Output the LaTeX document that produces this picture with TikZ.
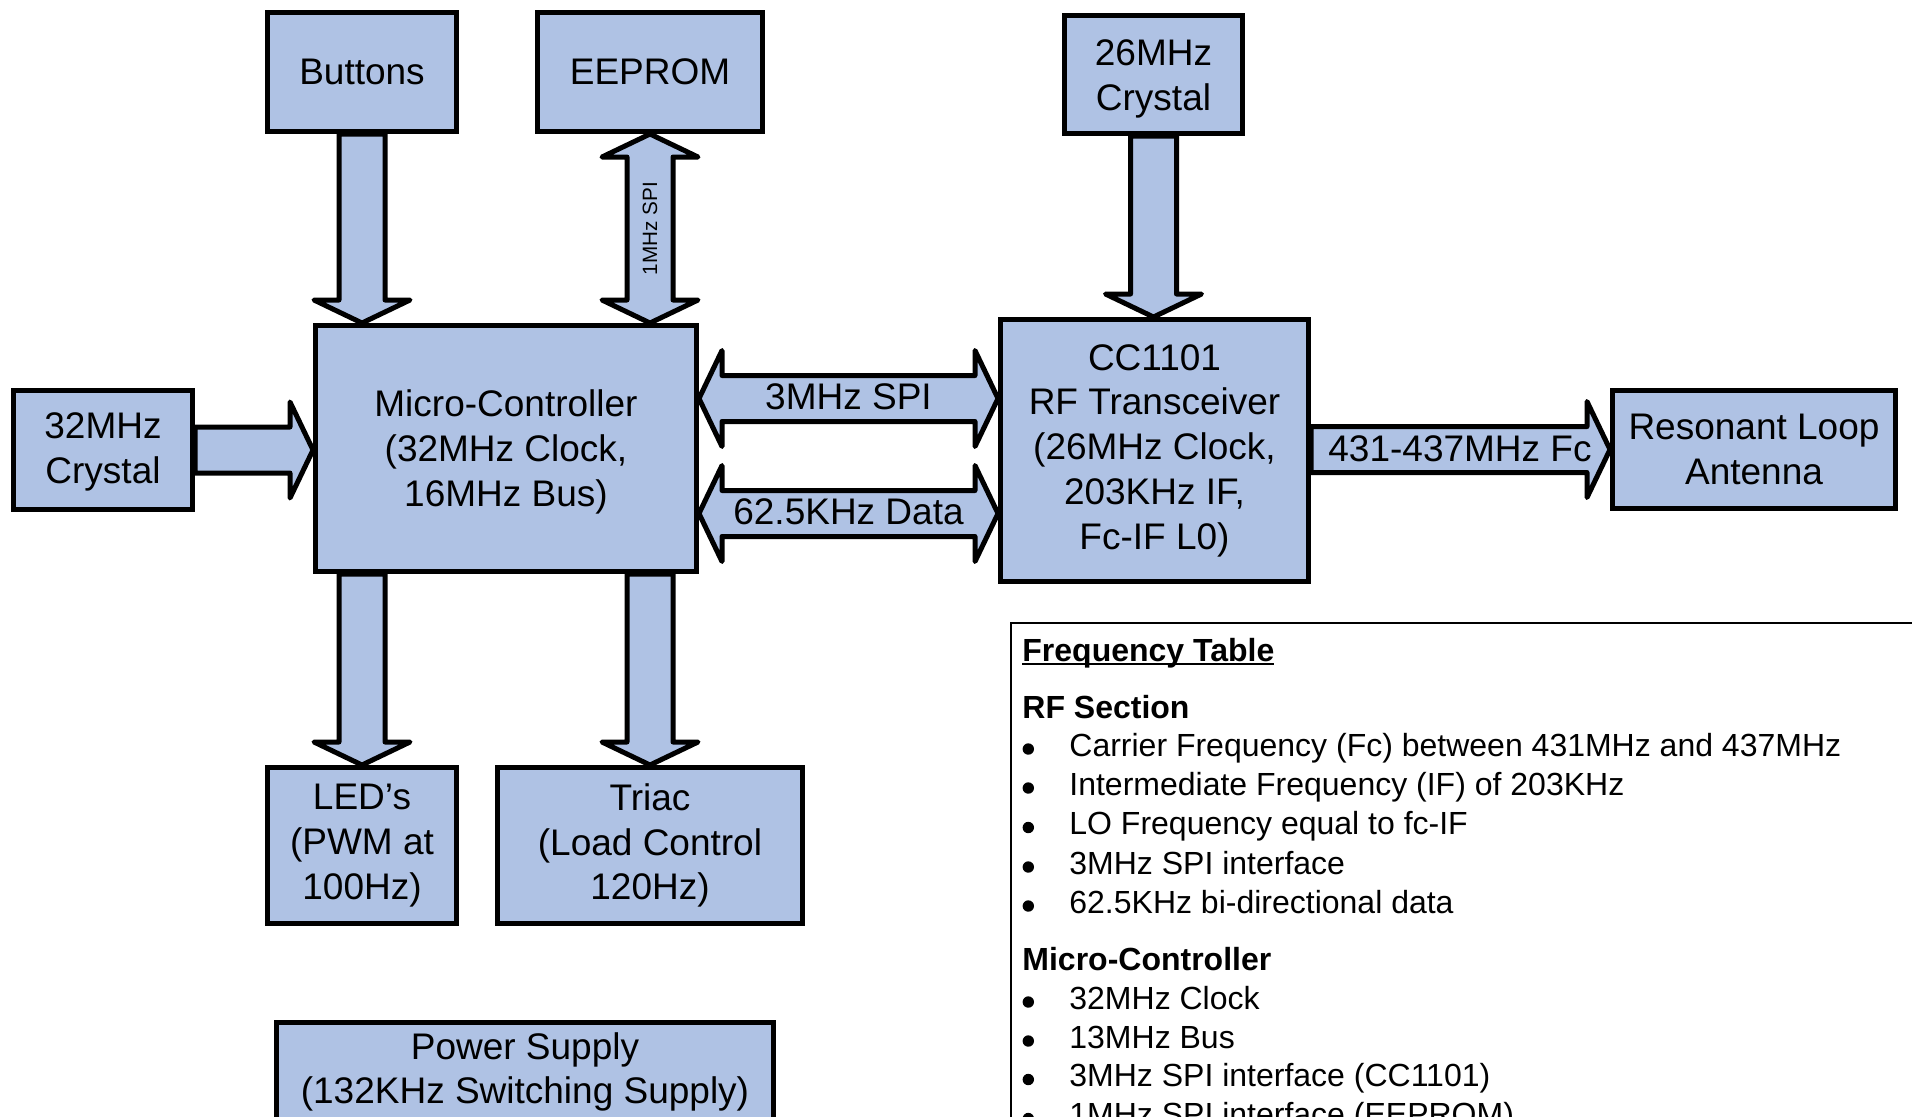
\documentclass[tikz,border=0pt]{standalone}
\usepackage{fontspec}
\setmainfont{Liberation Sans}
\usetikzlibrary{calc}
\definecolor{blkfill}{RGB}{175,194,228}
\pgfdeclarelayer{bg}
\pgfsetlayers{bg,main}
\newcommand{\myul}[1]{\setbox0=\hbox{#1}\rlap{\raisebox{-2pt}{\rule{\wd0}{1pt}}}\box0}
\newcommand{\blkarrv}[2]{\draw[barrow] let \p1=(#1), \p2=(#2) in
  (\x1-11.5pt,\y1) -- (\x1-11.5pt,\y2+11.5pt) -- (\x1-24pt,\y2+11.5pt) -- (\x1,\y2)
  -- (\x1+24pt,\y2+11.5pt) -- (\x1+11.5pt,\y2+11.5pt) -- (\x1+11.5pt,\y1) -- cycle;}
\newcommand{\blkarrvv}[2]{\draw[barrow] let \p1=(#1), \p2=(#2) in
  (\x1,\y1) -- (\x1+24pt,\y1-11.5pt) -- (\x1+11.5pt,\y1-11.5pt) -- (\x1+11.5pt,\y2+11.5pt)
  -- (\x1+24pt,\y2+11.5pt) -- (\x1,\y2) -- (\x1-24pt,\y2+11.5pt) -- (\x1-11.5pt,\y2+11.5pt)
  -- (\x1-11.5pt,\y1-11.5pt) -- (\x1-24pt,\y1-11.5pt) -- cycle;}
\newcommand{\blkarrh}[2]{\draw[barrow] let \p1=(#1), \p2=(#2) in
  (\x1,\y1+11.5pt) -- (\x2-11.5pt,\y1+11.5pt) -- (\x2-11.5pt,\y1+24pt) -- (\x2,\y1)
  -- (\x2-11.5pt,\y1-24pt) -- (\x2-11.5pt,\y1-11.5pt) -- (\x1,\y1-11.5pt) -- cycle;}
\newcommand{\blkarrhh}[2]{\draw[barrow] let \p1=(#1), \p2=(#2) in
  (\x1,\y1) -- (\x1+11.5pt,\y1+24pt) -- (\x1+11.5pt,\y1+11.5pt) -- (\x2-11.5pt,\y1+11.5pt)
  -- (\x2-11.5pt,\y1+24pt) -- (\x2,\y1) -- (\x2-11.5pt,\y1-24pt) -- (\x2-11.5pt,\y1-11.5pt)
  -- (\x1+11.5pt,\y1-11.5pt) -- (\x1+11.5pt,\y1-24pt) -- cycle;}
\newcommand{\firststrut}[1]{\rule{0pt}{#1}}
\tikzset{
  blk/.style={draw=black, fill=blkfill, line width=2.5pt, align=center,
    font=\fontsize{18.5pt}{22.4pt}\selectfont, inner sep=0pt},
  barrow/.style={draw=black, fill=blkfill, line width=2.5pt, line join=round},
  lbl/.style={font=\fontsize{18.5pt}{22.4pt}\selectfont, inner sep=0pt, align=center},
  tbl/.style={font=\fontsize{16pt}{19.5pt}\selectfont, inner sep=0pt, anchor=base west},
  tblb/.style={font=\fontsize{16pt}{19.5pt}\selectfont\bfseries, inner sep=0pt, anchor=base west},
  bul/.style={fill=black},
}
\begin{document}
\begin{tikzpicture}[x=0.5pt,y=-0.5pt]
\useasboundingbox (0,0) rectangle (1912,1116);
\clip (0,0) rectangle (1912,1116);

% blocks
\node[blk, minimum width=94.5pt, minimum height=59.5pt] (buttons) at (362,72) {Buttons};
\node[blk, minimum width=112.5pt, minimum height=59.5pt] (eeprom) at (650,72) {EEPROM};
\node[blk, minimum width=89pt, minimum height=59pt] (x26) at (1153.5,74.5) {\firststrut{17pt}26MHz\\Crystal};
\node[blk, minimum width=190.5pt, minimum height=123pt] (mcu) at (506,448.5) {\firststrut{17pt}Micro-Controller\\(32MHz Clock,\\16MHz Bus)};
\node[blk, minimum width=89.5pt, minimum height=59.5pt] (x32) at (103,450) {\firststrut{15pt}32MHz\\Crystal};
\node[blk, minimum width=154pt, minimum height=131pt] (cc) at (1154.5,450.5) {CC1101\\RF Transceiver\\(26MHz Clock,\\203KHz IF,\\Fc-IF L0)};
\node[blk, minimum width=141.5pt, minimum height=59pt] (ant) at (1754,449.5) {Resonant Loop\\Antenna};
\node[blk, minimum width=94.5pt, minimum height=78pt] (led) at (362,845.5) {LED’s\\(PWM at\\100Hz)};
\node[blk, minimum width=152.5pt, minimum height=78pt] (triac) at (650,845.5) {Triac\\(Load Control\\120Hz)};
\node[blk, minimum width=248.5pt, minimum height=87.5pt] (ps) at (525,1110) {};
\node[lbl] (pslbl) at (525,1072) {Power Supply\\(132KHz Switching Supply)};

\coordinate (spi) at (848.5,398.5);
\coordinate (dat) at (848.5,513.5);

% block arrows
\begin{pgfonlayer}{bg}
\blkarrv{buttons.south}{buttons.south |- mcu.north}
\blkarrvv{eeprom.south}{eeprom.south |- mcu.north}
\blkarrv{x26.south}{x26.south |- cc.north}
\blkarrv{mcu.south -| led.north}{led.north}
\blkarrv{mcu.south -| triac.north}{triac.north}
\blkarrh{x32.east}{x32.east -| mcu.west}
\blkarrh{cc.east |- ant.west}{ant.west}
\blkarrhh{mcu.east |- spi}{cc.west |- spi}
\blkarrhh{mcu.east |- dat}{cc.west |- dat}
\end{pgfonlayer}

% arrow labels
\node[font=\fontsize{10.35pt}{12pt}\selectfont, rotate=90, inner sep=0pt] (spilbl)
  at ($(eeprom.south)!0.5!(eeprom.south |- mcu.north)$) {1MHz SPI};
\node[lbl] (spitxt) at (848.5,397) {3MHz SPI};
\node[lbl] (dattxt) at (848.5,512) {62.5KHz Data};
\node[lbl] (fctxt) at (1460,449) {431-437MHz Fc};

% frequency table
\draw[line width=1pt] (1011,1200) -- (1011,623) -- (1950,623);
\node[tblb] (th) at (1022,661) {\myul{Frequency Table}};
\node[tblb] (rf) at (1022,718) {RF Section};
\node[tbl] (i1) at (1069,756) {Carrier Frequency (Fc) between 431MHz and 437MHz};
\node[tbl] (i2) at (1069,795) {Intermediate Frequency (IF) of 203KHz};
\node[tbl] (i3) at (1069,834.5) {LO Frequency equal to fc-IF};
\node[tbl] (i4) at (1069,874) {3MHz SPI interface};
\node[tbl] (i5) at (1069,913) {62.5KHz bi-directional data};
\node[tblb] (mch) at (1022,970) {Micro-Controller};
\node[tbl] (j1) at (1069,1009) {32MHz Clock};
\node[tbl] (j2) at (1069,1048) {13MHz Bus};
\node[tbl] (j3) at (1069,1086.5) {3MHz SPI interface (CC1101)};
\node[tbl] (j4) at (1069,1125.5) {1MHz SPI interface (EEPROM)};
\foreach \b in {756,795,834.5,874,913,1009,1048,1086.5,1125.5}
  \fill[bul] (1028.3,\b-7) circle[radius=2.85pt];
\end{tikzpicture}
\end{document}
